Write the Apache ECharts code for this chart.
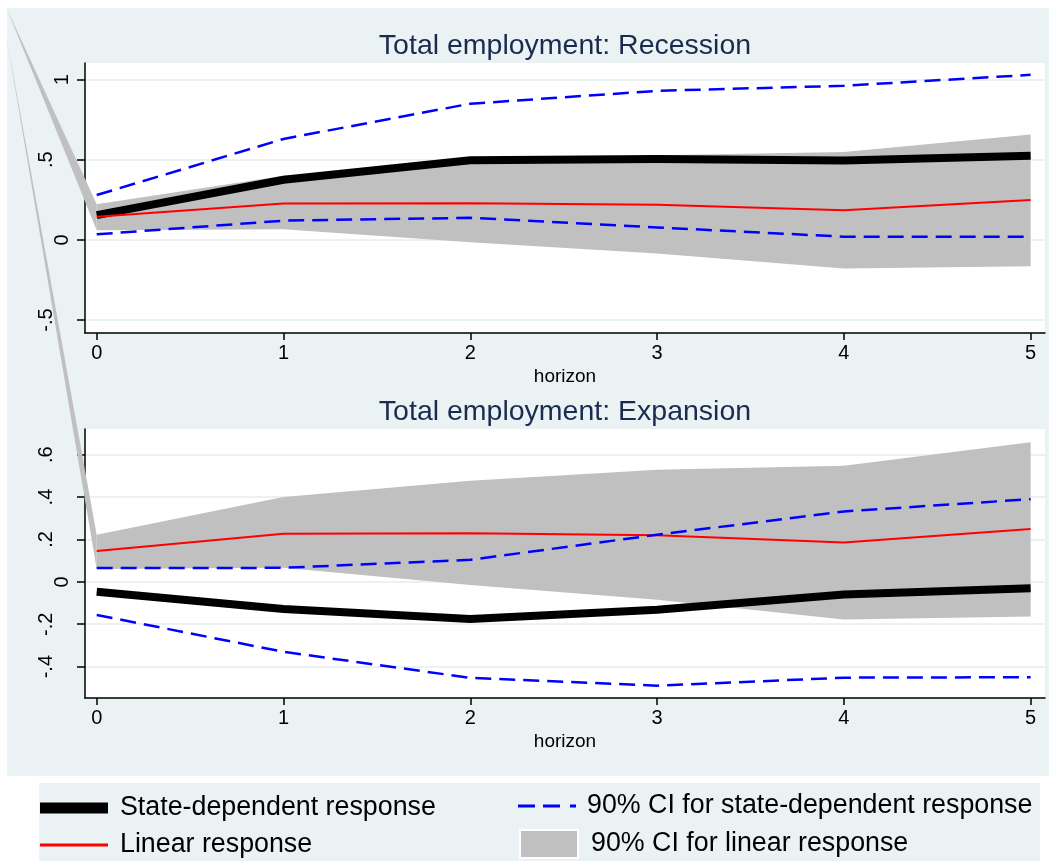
<!DOCTYPE html>
<html><head><meta charset="utf-8">
<script src="https://cdn.jsdelivr.net/npm/echarts@6/dist/echarts.min.js"></script>
<style>html,body{margin:0;padding:0;background:#fff}#c{width:1049px;height:861px}</style>
</head><body><div id="c"></div>
<script>
// ---- data ----
const horizon = [0, 1, 2, 3, 4, 5];
// Recession panel
const recState = [0.155, 0.375, 0.497, 0.505, 0.495, 0.525];
const recLo    = [0.035, 0.12, 0.138, 0.078, 0.02, 0.02];
const recHi    = [0.28, 0.63, 0.85, 0.93, 0.962, 1.03];
// Expansion panel
const expState = [-0.047, -0.128, -0.175, -0.132, -0.06, -0.03];
const expLo    = [-0.156, -0.33, -0.453, -0.49, -0.452, -0.45];
const expHi    = [0.065, 0.066, 0.104, 0.222, 0.332, 0.39];
// Linear response (same in both panels)
const linResp  = [0.145, 0.227, 0.229, 0.22, 0.185, 0.249];
const linLo    = [0.06, 0.066, -0.015, -0.085, -0.178, -0.164];
const linHi    = [0.222, 0.40, 0.477, 0.529, 0.548, 0.658];
// ticks
const xTicks   = [0, 1, 2, 3, 4, 5];
const recTicks = [-0.5, 0, 0.5, 1];
const recTickLabels = ['-.5', '0', '.5', '1'];
const expTicks = [-0.4, -0.2, 0, 0.2, 0.4, 0.6];
const expTickLabels = ['-.4', '-.2', '0', '.2', '.4', '.6'];
const titles = ['Total employment: Recession', 'Total employment: Expansion'];
const names = ['State-dependent response', 'Linear response',
               '90% CI for state-dependent response', '90% CI for linear response'];

const FONT = '"Liberation Sans", Arial, Helvetica, sans-serif';
const BG = '#eaf2f3';

function pairs(ys) { return horizon.map((h, i) => [h, ys[i]]); }

function yLabelFormatter(ticks, labels) {
  return function (v) {
    let idx = ticks.findIndex(t => Math.abs(t - v) < 1e-9);
    let s = idx >= 0 ? labels[idx] : String(v);
    return s.indexOf('.') >= 0 ? '{d|' + s + '}' : '{n|' + s + '}';
  };
}

function bandRender(params, api) {
  if (params.dataIndex !== 0) return null;
  const n = horizon.length;
  const upper = [], lower = [];
  for (let i = 0; i < n; i++) {
    upper.push(api.coord([horizon[i], linHi[i]]));
    lower.push(api.coord([horizon[i], linLo[i]]));
  }
  return { type: 'polygon', shape: { points: upper.concat(lower.reverse()) },
           style: { fill: '#c0c0c0' } };
}

function makeGridSeries(g, state, lo, hi) {
  return [
    { type: 'custom', name: names[3], xAxisIndex: g, yAxisIndex: g,
      data: horizon.map((h, i) => [h, linLo[i], linHi[i]]), encode: { x: 0, y: [1, 2] },
      renderItem: bandRender, itemStyle: { color: '#c0c0c0' }, silent: true, z: 1 },
    { type: 'line', name: names[0], xAxisIndex: g, yAxisIndex: g, data: pairs(state), symbol: 'none',
      lineStyle: { width: 8, color: '#000000', cap: 'butt', join: 'miter' },
      itemStyle: { color: '#000000' }, silent: true, z: 3 },
    { type: 'line', name: names[1], xAxisIndex: g, yAxisIndex: g, data: pairs(linResp), symbol: 'none',
      lineStyle: { width: 2, color: '#ff0000' }, itemStyle: { color: '#ff0000' }, silent: true, z: 4 },
    { type: 'line', name: names[2], xAxisIndex: g, yAxisIndex: g, data: pairs(hi), symbol: 'none',
      lineStyle: { width: 2.5, color: '#0000ff', type: [16, 8] }, itemStyle: { color: '#0000ff' }, silent: true, z: 5 },
    { type: 'line', name: names[2], xAxisIndex: g, yAxisIndex: g, data: pairs(lo), symbol: 'none',
      lineStyle: { width: 2.5, color: '#0000ff', type: [16, 8] }, itemStyle: { color: '#0000ff' }, silent: true, z: 5 }
  ];
}

function xAxis(g) {
  return {
    type: 'value', gridIndex: g, min: -0.0626, max: 5.077,
    name: 'horizon', nameLocation: 'middle', nameGap: 34,
    nameTextStyle: { fontSize: 19, color: '#000', fontFamily: FONT },
    axisLine: { show: true, onZero: false, lineStyle: { color: '#000', width: 1.5 } },
    axisTick: { show: true, length: 7, customValues: xTicks, lineStyle: { color: '#000', width: 1.5 } },
    axisLabel: { customValues: xTicks, fontSize: 20, color: '#000', fontFamily: FONT, margin: 10,
                 formatter: v => String(v) },
    splitLine: { show: false }
  };
}
function yAxis(g, min, max, ticks, labels) {
  return {
    type: 'value', gridIndex: g, min: min, max: max,
    axisLine: { show: true, onZero: false, lineStyle: { color: '#000', width: 1.5 } },
    axisTick: { show: true, length: 8, customValues: ticks, lineStyle: { color: '#000', width: 1.5 } },
    axisLabel: { customValues: ticks, rotate: 90, margin: 13, color: '#000',
                 formatter: yLabelFormatter(ticks, labels),
                 rich: { n: { fontSize: 20, fontFamily: FONT, color: '#000' },
                         d: { fontSize: 20, fontFamily: FONT, color: '#000', padding: [0, 0, 16, 0] } } },
    splitLine: { show: true, lineStyle: { color: BG, width: 2 } }
  };
}

const chart = echarts.init(document.getElementById('c'), null, { renderer: 'canvas' });
function lt(padLeft) {
  return { fontSize: 26.8, lineHeight: 30, color: '#000', fontFamily: FONT, padding: [0, 0, 0, padLeft] };
}
const option = {
  backgroundColor: '#ffffff',
  animation: false,
  title: [
    { text: titles[0], left: 565, top: 32, textAlign: 'center', padding: 0,
      textStyle: { fontSize: 28.5, fontWeight: 'normal', color: '#1a2b4f', fontFamily: FONT } },
    { text: titles[1], left: 565, top: 398, textAlign: 'center', padding: 0,
      textStyle: { fontSize: 28.5, fontWeight: 'normal', color: '#1a2b4f', fontFamily: FONT } }
  ],
  grid: [
    { left: 85, top: 63, width: 960, height: 270, show: true, backgroundColor: '#ffffff', borderWidth: 0 },
    { left: 85, top: 429, width: 960, height: 269, show: true, backgroundColor: '#ffffff', borderWidth: 0 }
  ],
  xAxis: [xAxis(0), xAxis(1)],
  yAxis: [yAxis(0, -0.581, 1.104, recTicks, recTickLabels), yAxis(1, -0.548, 0.721, expTicks, expTickLabels)],
  legend: [
    { data: [names[0]], left: 40, top: 808 - 15, padding: 0, itemWidth: 68, itemHeight: 11, icon: 'rect',
      selectedMode: false, textStyle: lt(7) },
    { data: [names[1]], left: 40, top: 845 - 15, padding: 0, itemWidth: 68, itemHeight: 3, icon: 'rect',
      selectedMode: false, textStyle: lt(7) },
    { data: [{ name: names[2], icon: 'path://M0,0H17V3H0Z M25,0H42V3H25Z M52,0H58V3H52Z' }],
      left: 518, top: 806 - 15, padding: 0, itemWidth: 64, itemHeight: 3,
      selectedMode: false, textStyle: lt(3) },
    { data: [names[3]], left: 519, top: 844 - 15, padding: 0, itemWidth: 58, itemHeight: 28, icon: 'rect',
      itemStyle: { borderColor: '#ffffff', borderWidth: 2 },
      selectedMode: false, textStyle: lt(8) }
  ],
  graphic: [
    { type: 'rect', shape: { x: 7, y: 8, width: 1042, height: 768 }, style: { fill: BG }, z: -10, silent: true },
    { type: 'rect', shape: { x: 39, y: 783, width: 1001, height: 78 }, style: { fill: BG }, z: -10, silent: true }
  ],
  series: [].concat(makeGridSeries(0, recState, recLo, recHi), makeGridSeries(1, expState, expLo, expHi))
};
chart.setOption(option);

// stray polygon edge of the shaded band seen in the reference (anchored to the band's first point)
const a0 = chart.convertToPixel({ gridIndex: 0 }, [horizon[0], linHi[0]]);
const b0 = chart.convertToPixel({ gridIndex: 0 }, [horizon[0], linLo[0]]);
const a1 = chart.convertToPixel({ gridIndex: 1 }, [horizon[0], linHi[0]]);
const b1 = chart.convertToPixel({ gridIndex: 1 }, [horizon[0], linLo[0]]);
chart.setOption({
  graphic: option.graphic.concat([
    { type: 'polygon', shape: { points: [[7, 9], a0, b0] }, style: { fill: '#c0c0c0' }, z: 1, silent: true },
    { type: 'polygon', shape: { points: [[7, 40], a1, b1] }, style: { fill: '#c0c0c0' }, z: 1, silent: true }
  ])
});
</script></body></html>
